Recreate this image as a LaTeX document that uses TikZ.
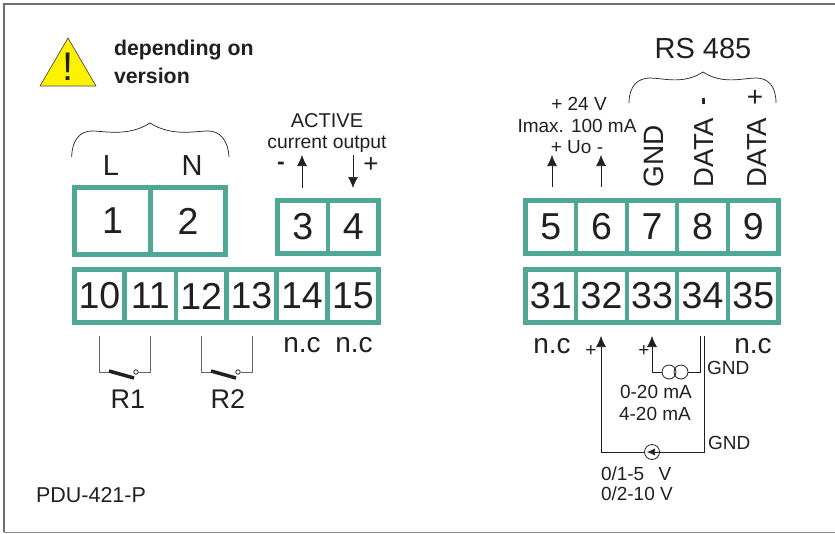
\documentclass[tikz,border=0pt]{standalone}
\usepackage{fontspec}
\setmainfont{Liberation Sans}
\usetikzlibrary{arrows.meta}
\definecolor{ink}{HTML}{231F20}
\definecolor{termteal}{HTML}{4FA796}
\definecolor{warnyellow}{HTML}{FFF200}
\definecolor{framegray}{HTML}{6E6E6E}
\newcommand\fs[1]{\fontsize{#1}{#1}\selectfont}
\tikzset{
  cell/.style={draw=termteal,line width=4.7pt,inner sep=0pt,outer sep=0pt,minimum height=53pt,text=ink,font=\fs{37.5}},
  lab/.style={inner sep=0pt,outer sep=0pt,anchor=base,text=ink,font=\fs{#1}},
  labw/.style={inner sep=0pt,outer sep=0pt,anchor=base west,text=ink,font=\fs{#1}},
  wire/.style={draw=ink,line width=.7pt},
  relay/.style={draw=black!60,line width=.8pt},
  blade/.style={draw=ink,line width=3.5pt},
  brace/.style={draw=ink,line width=.7pt},
  tip/.style={-{Latex[length=11pt,width=10pt]}},
}
\begin{document}
\begin{tikzpicture}[x=1pt,y=-1pt]
\useasboundingbox (0,0) rectangle (835,533);
% frame
\draw[framegray,line width=1.4pt] (835,4) -- (4,4) -- (4,532);
\draw[black!45,line width=1pt] (4,532) -- (835,532);
% warning
\draw[fill=warnyellow,draw=ink!80,line width=.7pt,line join=round] (68,38) -- (96,86) -- (40,86) -- cycle;
\node[lab=40] (excl) at (68,80) {!};
\node[labw=21.3] (dep) at (114,55) {\bfseries depending on};
\node[labw=21.3] (ver) at (114,83) {\bfseries version};
% terminals
\node[cell,minimum width=76pt,minimum height=67pt] (n1) at (112.5,221) {1};
\node[cell,minimum width=75pt,minimum height=67pt] (n2) at (188,221) {2};
\node[cell,minimum width=50.5pt] (n3) at (302.75,227) {3};
\node[cell,minimum width=50.5pt] (n4) at (353.25,227) {4};
\node[cell,minimum width=50pt] (n10) at (99.5,296) {10};
\node[cell,minimum width=51.5pt] (n11) at (150.25,296) {11};
\node[cell,minimum width=50.5pt] (n12) at (201.25,296) {12};
\node[cell,minimum width=50pt] (n13) at (251.5,296) {13};
\node[cell,minimum width=51pt] (n14) at (302,296) {14};
\node[cell,minimum width=51pt] (n15) at (353,296) {15};
\node[cell,minimum width=50.5pt] (n5) at (550.75,227) {5};
\node[cell,minimum width=51pt] (n6) at (601.5,227) {6};
\node[cell,minimum width=50pt] (n7) at (652,227) {7};
\node[cell,minimum width=51pt] (n8) at (702.5,227) {8};
\node[cell,minimum width=50.5pt] (n9) at (753.25,227) {9};
\node[cell,minimum width=50.5pt] (n31) at (550.75,296) {31};
\node[cell,minimum width=51pt] (n32) at (601.5,296) {32};
\node[cell,minimum width=50pt] (n33) at (652,296) {33};
\node[cell,minimum width=51pt] (n34) at (702.5,296) {34};
\node[cell,minimum width=50.5pt] (n35) at (753.25,296) {35};
% braces
\draw[brace] (71.7,157) .. controls (72,140) and (80,131) .. (92,131) .. controls (105,131) and (128,137) .. (150,123)
  .. controls (172,137) and (195,131) .. (208,131) .. controls (220,131) and (228,140) .. (229,157);
\draw[brace] (629,103) .. controls (629,86) and (638,78) .. (650,78) .. controls (663,78) and (683,85) .. (703,72)
  .. controls (723,85) and (743,78) .. (756,78) .. controls (768,78) and (776,86) .. (776,103);
% left labels
\node[lab=29] (lL) at (111,175) {L};
\node[lab=29] (lN) at (192,175) {N};
\node[lab=20] (act) at (327,127) {ACTIVE};
\node[lab=19.3] (cur) at (327,148) {current output};
\node[lab=23] (mi) at (281,169) {\bfseries -};
\node[lab=26] (pl) at (371,172) {+};
% active output arrows
\coordinate (a3s) at (302,188); \coordinate (a3e) at (302,155);
\coordinate (a4s) at (353,155); \coordinate (a4e) at (353,188);
\draw[wire,tip] (a3s) -- (a3e);
\draw[wire,tip] (a4s) -- (a4e);
% right top labels
\node[lab=29] (rs) at (703,58) {RS 485};
\node[lab=19] (v24) at (579,110) {+ 24 V};
\node[lab=19] (imax) at (577,132) {Imax. 100 mA};
\node[lab=19] (uo) at (577,153) {+ Uo -};
\node[labw=28,rotate=90] (gnd) at (663,187) {GND};
\node[labw=27.5,rotate=90] (dm) at (713,187) {DATA};
\node[labw=27.5,rotate=90] (dp) at (766,187) {DATA};
\node[inner sep=0pt,rotate=90,text=ink,font=\fs{24}\bfseries] (dmm) at (706,102) {-};
\node[inner sep=0pt,text=ink,font=\fs{28}] (dpp) at (755,98) {+};
\coordinate (a5s) at (552,187); \coordinate (a5e) at (552,155);
\coordinate (a6s) at (601,187); \coordinate (a6e) at (601,155);
\draw[wire,tip] (a5s) -- (a5e);
\draw[wire,tip] (a6s) -- (a6e);
% n.c
\node[lab=28] (nc14) at (302,352) {n.c};
\node[lab=28] (nc15) at (354,352) {n.c};
\node[lab=28] (nc31) at (552,353) {n.c};
\node[lab=28] (nc35) at (753,353) {n.c};
% relays
\node[circle,draw=ink,line width=.8pt,inner sep=0pt,minimum size=4.5pt] (c1) at (136,372) {};
\coordinate (r1a) at (99,336); \coordinate (r1b) at (150,336);
\draw[relay] (r1a) -- (99,372) -- (110,372);
\draw[relay] (c1) -- (150,372) -- (r1b);
\draw[blade] (109,371) -- (134,378);
\node[lab=27] (lr1) at (128,408) {R1};
\node[circle,draw=ink,line width=.8pt,inner sep=0pt,minimum size=4.5pt] (c2) at (238,372) {};
\coordinate (r2a) at (201,336); \coordinate (r2b) at (252,336);
\draw[relay] (r2a) -- (201,372) -- (212,372);
\draw[relay] (c2) -- (252,372) -- (r2b);
\draw[blade] (211,371) -- (236,378);
\node[lab=27] (lr2) at (228,408) {R2};
% current input
\node[circle,draw=ink,line width=.8pt,inner sep=0pt,minimum size=14pt] (o1) at (669,372) {};
\node[circle,draw=ink,line width=.8pt,inner sep=0pt,minimum size=14pt] (o2) at (681,372) {};
\coordinate (i1) at (652,336); \coordinate (i2) at (700,336);
\draw[wire,tip] (o1.west) -- (652,372) -- (i1);
\draw[wire] (o2.east) -- (700,372) -- (i2);
% voltage input
\node[circle,draw=ink,line width=.8pt,inner sep=0pt,minimum size=15pt] (src) at (652,452) {};
\coordinate (u1) at (601,336); \coordinate (u2) at (704,336);
\draw[wire,tip] (src.west) -- (601,452) -- (u1);
\draw[wire] (src.east) -- (704,452) -- (u2);
\draw[wire,{Latex[length=8pt,width=7pt]}-] (src.center) ++(-5,0) -- (src.east);
% bottom labels
\node[lab=19] (p1) at (591,356) {+};
\node[lab=19] (p2) at (644,356) {+};
\node[labw=19] (g1) at (707,374) {GND};
\node[labw=19] (g2) at (708,449) {GND};
\node[lab=19] (ma1) at (656,398) {0-20 mA};
\node[lab=19] (ma2) at (655,420) {4-20 mA};
\node[labw=19] (v1) at (601,480) {0/1-5\hspace{.75em}V};
\node[labw=19] (v2) at (601,500) {0/2-10 V};
\node[labw=21.5] (pdu) at (36,502) {PDU-421-P};
\end{tikzpicture}
\end{document}
